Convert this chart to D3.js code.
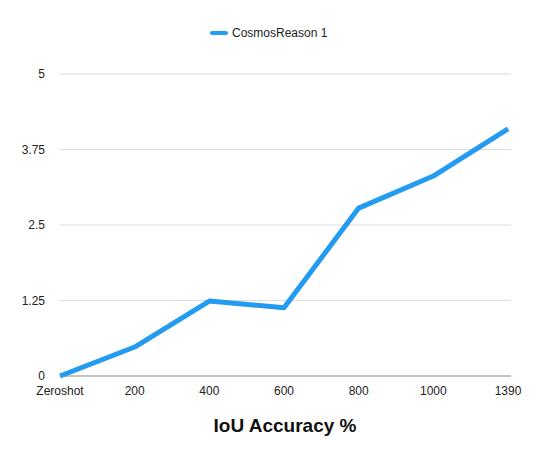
<!DOCTYPE html>
<html><head><meta charset="utf-8">
<script src="https://cdn.jsdelivr.net/npm/d3@7"></script>
<style>body{margin:0;background:#fff}text{font-family:"Liberation Sans",Arial,sans-serif}</style>
</head><body>
<svg id="svgg" width="560" height="463"></svg>
<script>
var categories = ["Zeroshot", "200", "400", "600", "800", "1000", "1390"];
var values = [0, 0.48, 1.24, 1.13, 2.78, 3.31, 4.09];
var yTicks = [0, 1.25, 2.5, 3.75, 5];
var yTickLabels = ["0", "1.25", "2.5", "3.75", "5"];
var seriesName = "CosmosReason 1";
var color = "#229BF0";

var svg = d3.select("#svgg");
var x = d3.scalePoint().domain(categories).range([60, 508]);
var y = d3.scaleLinear().domain([0, 5]).range([376, 74]);

// grid + y labels
svg.selectAll("line.grid").data(yTicks).enter().append("line")
  .attr("x1", 60).attr("x2", 511)
  .attr("y1", function(d) { return y(d); }).attr("y2", function(d) { return y(d); })
  .attr("stroke", function(d) { return d === 0 ? "#888" : "#dcdcdc"; }).attr("stroke-width", 1);
svg.selectAll("text.yl").data(yTicks).enter().append("text")
  .attr("x", 45).attr("y", function(d) { return y(d) + 4; })
  .attr("text-anchor", "end").attr("font-size", 12).attr("fill", "#222")
  .text(function(d, i) { return yTickLabels[i]; });

// x labels
svg.selectAll("text.xl").data(categories).enter().append("text")
  .attr("x", function(d) { return x(d); }).attr("y", 395)
  .attr("text-anchor", "middle").attr("font-size", 12).attr("fill", "#222")
  .text(function(d) { return d; });

// line
var line = d3.line().x(function(d, i) { return x(categories[i]); }).y(function(d) { return y(d); });
svg.append("path").datum(values).attr("d", line)
  .attr("fill", "none").attr("stroke", color).attr("stroke-width", 5)
  .attr("stroke-linejoin", "round");

// legend
svg.append("line").attr("x1", 212).attr("x2", 226).attr("y1", 33).attr("y2", 33)
  .attr("stroke", color).attr("stroke-width", 4).attr("stroke-linecap", "round");
svg.append("text").attr("x", 232).attr("y", 37).attr("font-size", 12).attr("fill", "#222").text(seriesName);

// title
svg.append("text").attr("x", 285).attr("y", 432).attr("text-anchor", "middle")
  .attr("font-size", 19).attr("font-weight", "bold").attr("fill", "#111").text("IoU Accuracy %");
</script>
</body></html>
